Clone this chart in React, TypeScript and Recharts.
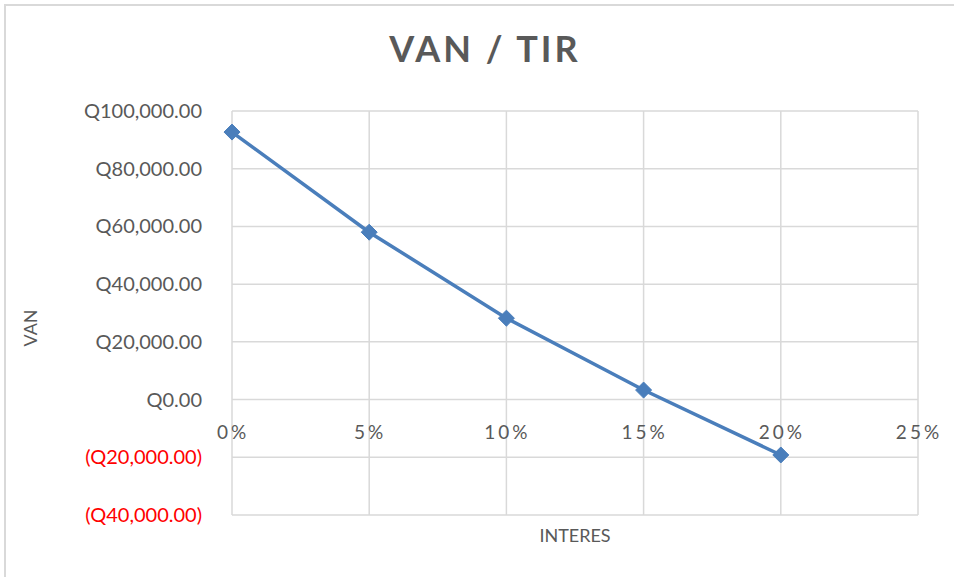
import React from "react";
import { LineChart, Line, XAxis, YAxis, CartesianGrid } from "recharts";

// tasas de interés y VAN
const rates = [0, 0.05, 0.1, 0.15, 0.2];
const vanValues = [92700, 58000, 28200, 3300, -19200];
const xTicks = [0, 0.05, 0.1, 0.15, 0.2, 0.25];
const yTicks = [-40000, -20000, 0, 20000, 40000, 60000, 80000, 100000];

const data = rates.map((r, i) => ({ rate: r, van: vanValues[i] }));

const W = 954;
const H = 577;
const TOP = 111;
const BOTTOM = 515;
const Y_AXIS_W = 150;
const PLOT_LEFT = 232;
const X_AXIS_H = 40;
const Y_MIN = -40000;
const Y_MAX = 100000;
const ZERO_Y = TOP + ((BOTTOM - TOP) * Y_MAX) / (Y_MAX - Y_MIN);

const FONT = "Lato, 'Open Sans', sans-serif";
const GREY = "#595959";

function money(v: number) {
  const s = Math.abs(v).toLocaleString("en-US", { minimumFractionDigits: 2, maximumFractionDigits: 2 });
  return v < 0 ? `(Q${s})` : `Q${s}`;
}

function YTick(props: any) {
  const { x, y, payload } = props;
  const v = payload.value as number;
  return (
    <text x={x + 4} y={y + 7} textAnchor="end" fontFamily={FONT} fontSize={20} fill={v < 0 ? "#ff0000" : GREY}>
      {money(v)}
    </text>
  );
}

function XTick(props: any) {
  const { x, payload } = props;
  return (
    <text x={x + 1} y={ZERO_Y + 39} textAnchor="middle" fontFamily={FONT} fontSize={19} letterSpacing={3} fill={GREY}>
      {`${Math.round(payload.value * 100)}%`}
    </text>
  );
}

function Diamond(props: any) {
  const { cx, cy } = props;
  if (cx == null || cy == null) return null;
  const r = 8;
  return (
    <polygon
      points={`${cx},${cy - r} ${cx + r},${cy} ${cx},${cy + r} ${cx - r},${cy}`}
      fill="#4a7ebb"
      stroke="#4a7ebb"
      strokeWidth={1}
    />
  );
}

export default function App() {
  return (
    <div style={{ position: "absolute", left: 0, top: 0, width: W, height: H, background: "#fff", overflow: "hidden" }}>
      <div style={{ position: "absolute", left: 4, top: 4, width: W + 10, height: H + 10, borderLeft: "2px solid #d9d9d9", borderTop: "2px solid #d9d9d9" }} />
      <div
        style={{
          position: "absolute",
          left: 0,
          width: W,
          top: 26,
          textAlign: "center",
          fontFamily: FONT,
          fontWeight: 700,
          fontSize: 36,
          letterSpacing: 3,
          color: GREY,
          paddingLeft: 16,
          boxSizing: "border-box",
        }}
      >
        VAN / TIR
      </div>
      <div
        style={{
          position: "absolute",
          left: 30,
          top: 328,
          transform: "translate(-50%, -50%) rotate(-90deg)",
          fontFamily: FONT,
          fontSize: 18,
          color: GREY,
        }}
      >
        VAN
      </div>
      <div
        style={{
          position: "absolute",
          left: 575,
          top: 535,
          transform: "translate(-50%, -50%)",
          fontFamily: FONT,
          fontSize: 18,
          color: GREY,
        }}
      >
        INTERES
      </div>
      <div style={{ position: "absolute", left: 0, top: 0 }}>
        <LineChart
          width={W}
          height={H}
          data={data}
          margin={{ top: TOP, right: W - 918, bottom: H - BOTTOM - X_AXIS_H, left: PLOT_LEFT - Y_AXIS_W }}
        >
          <CartesianGrid stroke="#d9d9d9" strokeWidth={1.5} />
          <XAxis
            dataKey="rate"
            type="number"
            domain={[0, 0.25]}
            ticks={xTicks}
            height={X_AXIS_H}
            axisLine={false}
            tickLine={false}
            tick={<XTick />}
            interval={0}
          />
          <YAxis
            type="number"
            domain={[Y_MIN, Y_MAX]}
            ticks={yTicks}
            width={Y_AXIS_W}
            axisLine={false}
            tickLine={false}
            tick={<YTick />}
            tickMargin={28}
            interval={0}
          />
          <Line
            type="linear"
            dataKey="van"
            stroke="#4a7ebb"
            strokeWidth={3.5}
            dot={<Diamond />}
            activeDot={false}
            isAnimationActive={false}
          />
        </LineChart>
      </div>
    </div>
  );
}
